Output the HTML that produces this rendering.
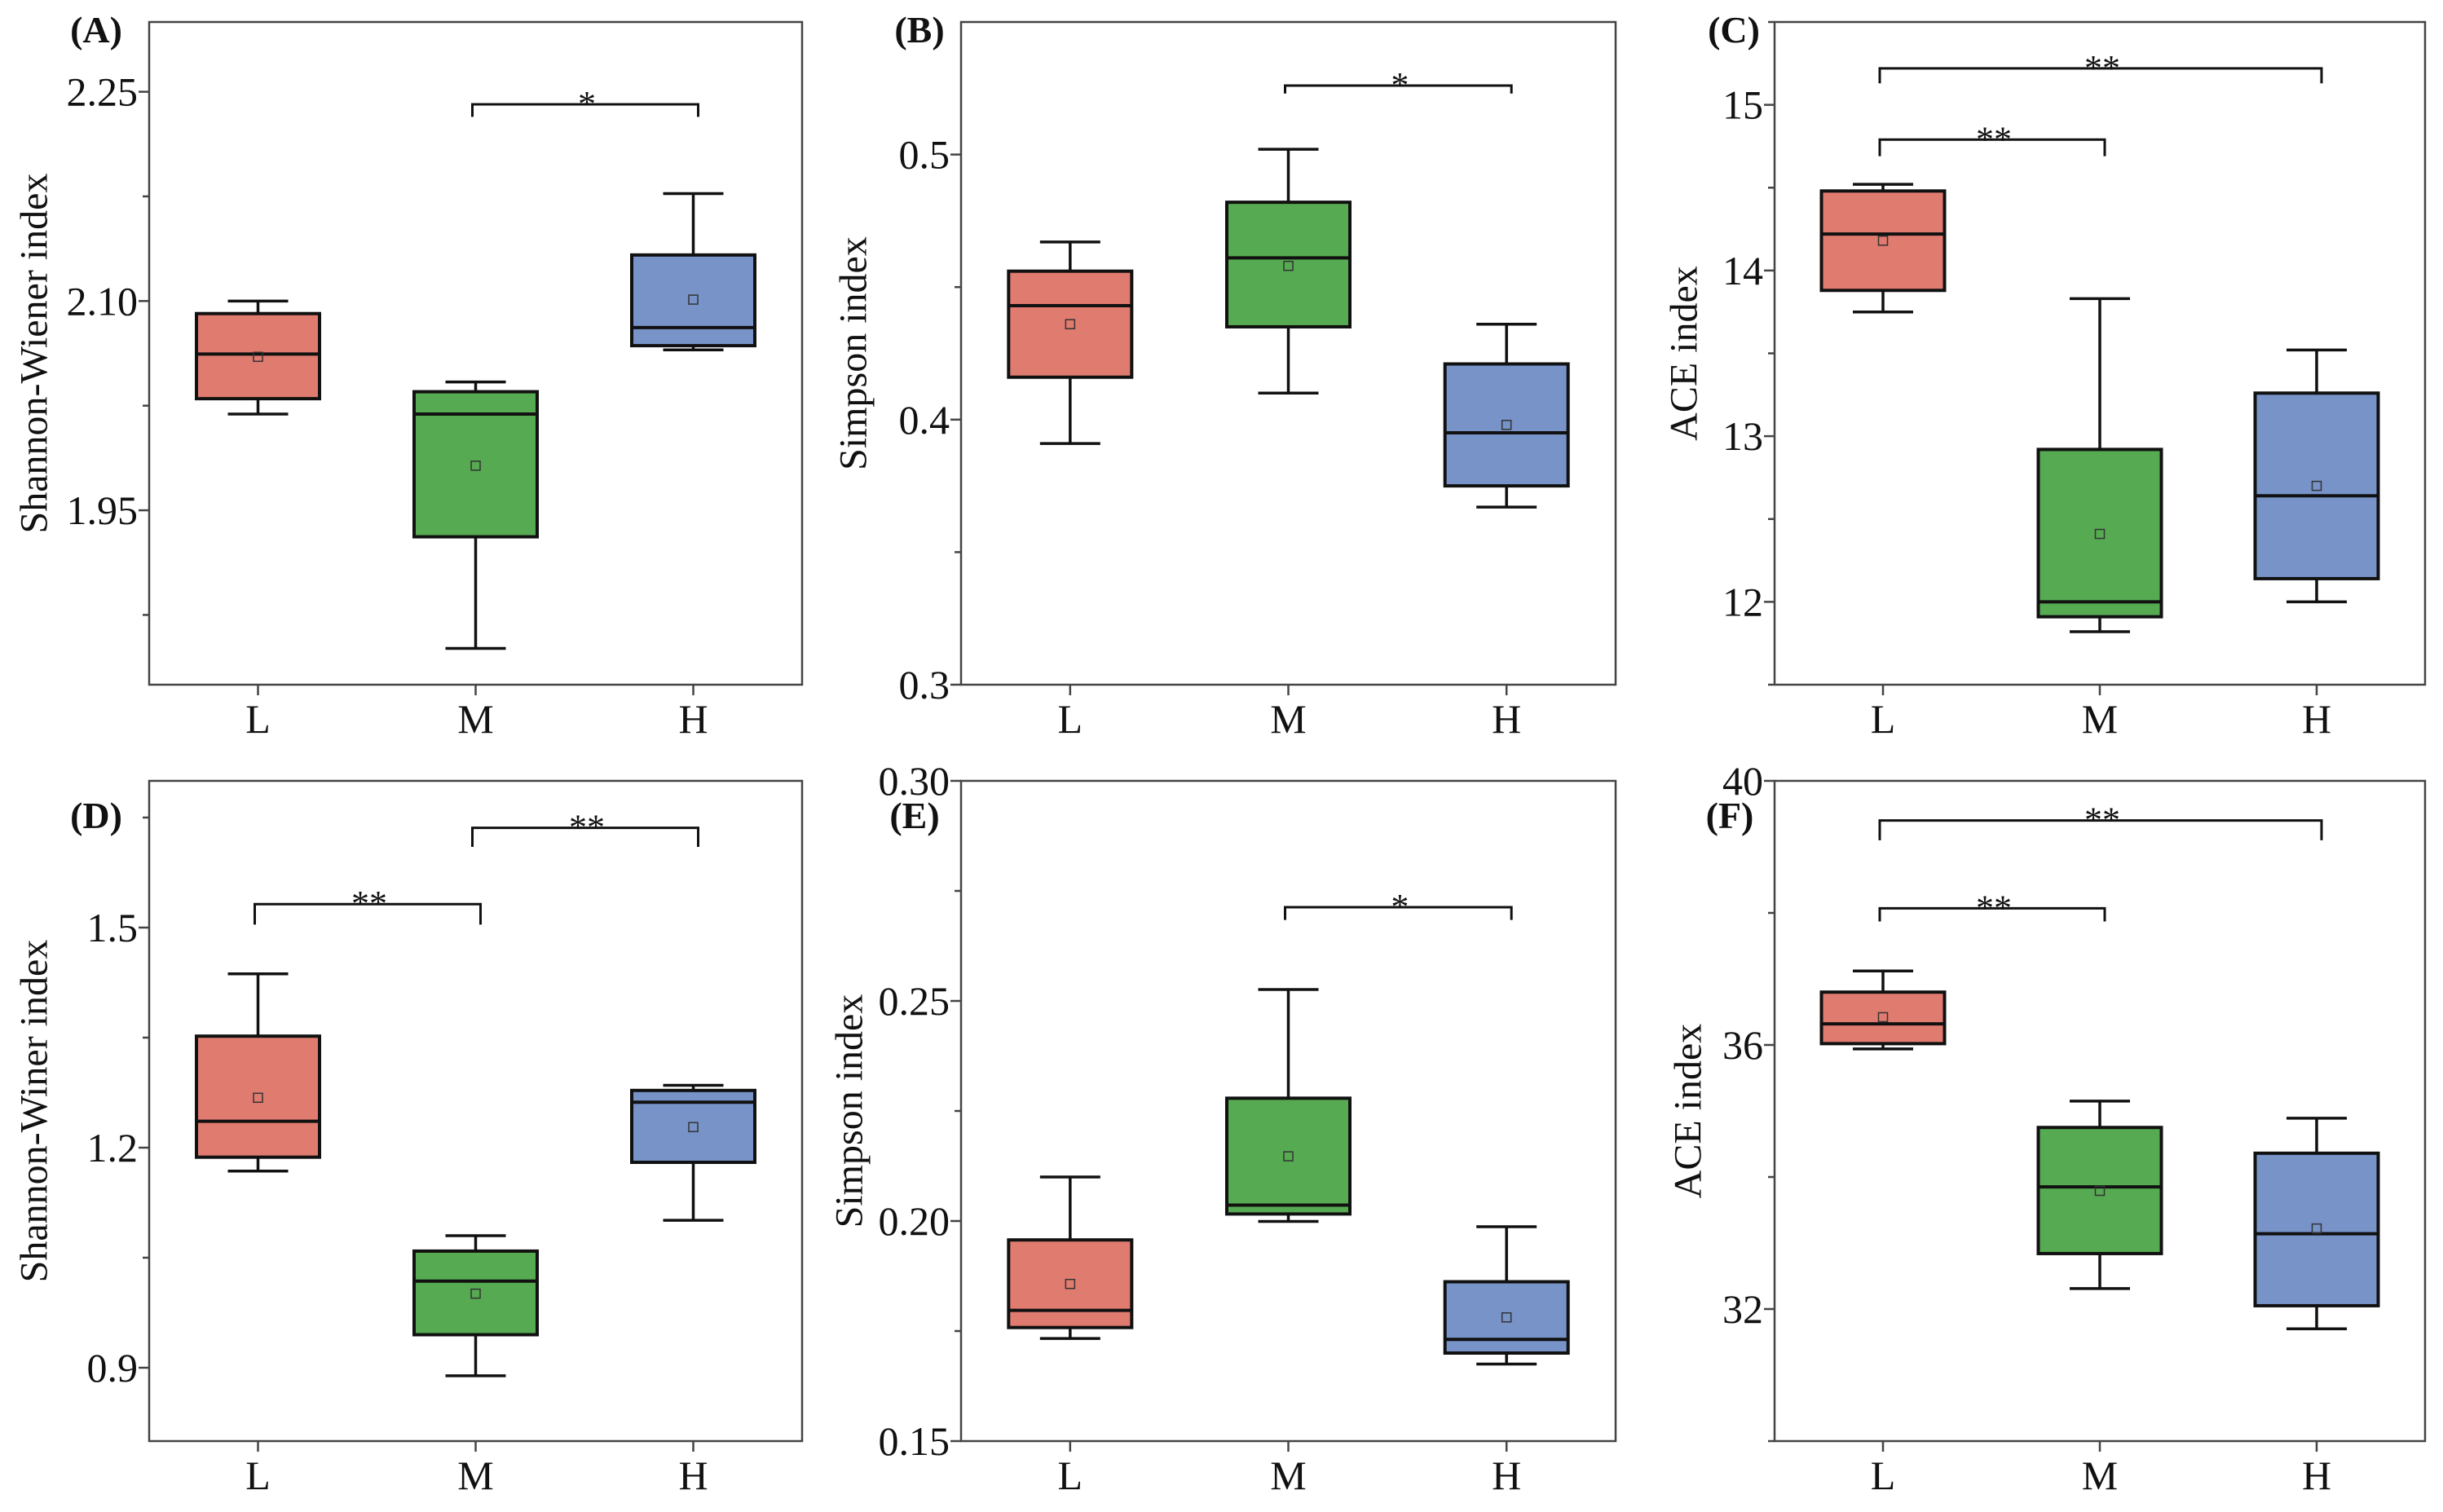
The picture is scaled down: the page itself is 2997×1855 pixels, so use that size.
<!DOCTYPE html>
<html><head><meta charset="utf-8">
<style>
html,body{margin:0;padding:0;background:#fff;}
svg{display:block;font-family:"Liberation Serif",serif;}
</style></head>
<body>
<svg id="fig" width="2997" height="1855" viewBox="0 0 2997 1855" xmlns="http://www.w3.org/2000/svg"></svg>
<script>
const categories = ["L","M","H"];
const colors = ["#e07b6f","#56aa52","#7793c8"];
// per group: [whiskerLow, q1, median, q3, whiskerHigh, mean]
const statsA = [[2.019,2.030,2.062,2.091,2.100,2.060],[1.851,1.931,2.019,2.035,2.042,1.982],[2.065,2.068,2.081,2.133,2.177,2.101]];
const statsB = [[0.391,0.416,0.443,0.456,0.467,0.436],[0.410,0.435,0.461,0.482,0.502,0.458],[0.367,0.375,0.395,0.421,0.436,0.398]];
const statsC = [[13.75,13.88,14.22,14.48,14.52,14.18],[11.82,11.91,12.00,12.92,13.83,12.41],[12.00,12.14,12.64,13.26,13.52,12.70]];
const statsD = [[1.168,1.187,1.236,1.352,1.437,1.268],[0.889,0.945,1.018,1.059,1.080,1.001],[1.101,1.180,1.262,1.278,1.285,1.228]];
const statsE = [[0.1733,0.1758,0.1797,0.1957,0.2100,0.1857],[0.1999,0.2016,0.2036,0.2279,0.2526,0.2147],[0.1675,0.1700,0.1731,0.1862,0.1987,0.1781]];
const statsF = [[35.94,36.02,36.32,36.80,37.12,36.42],[32.31,32.84,33.85,34.75,35.15,33.79],[31.70,32.05,33.14,34.36,34.89,33.22]];
const majorA = ["1.95","2.10","2.25"], minorA = [1.875,2.025,2.175];
const majorB = ["0.3","0.4","0.5"], minorB = [0.35,0.45];
const majorC = ["12","13","14","15"], minorC = [11.5,12.5,13.5,14.5,15.5];
const majorD = ["0.9","1.2","1.5"], minorD = [1.05,1.35,1.65];
const majorE = ["0.15","0.20","0.25","0.30"], minorE = [0.175,0.225,0.275];
const majorF = ["32","36","40"], minorF = [30,34,38];
// brackets: [fromIdx, toIdx, yValue, dropValue, label]
const sigA = [[1,2,2.241,2.232,"*"]];
const sigB = [[1,2,0.526,0.523,"*"]];
const sigC = [[0,1,14.79,14.69,"**"],[0,2,15.22,15.13,"**"]];
const sigD = [[0,1,1.532,1.504,"**"],[1,2,1.636,1.610,"**"]];
const sigE = [[1,2,0.2713,0.2684,"*"]];
const sigF = [[0,1,38.07,37.87,"**"],[0,2,39.40,39.10,"**"]];

const panels = [
 {id:"a",tag:"(A)",x0:183,x1:984,y0:27,y1:840,min:1.825,max:2.30,stats:statsA,major:majorA,minor:minorA,sig:sigA,ylab:"Shannon-Wiener  index",ylx:42,tagx:118,tagy:52},
 {id:"b",tag:"(B)",x0:1179,x1:1982,y0:27,y1:840,min:0.3,max:0.55,stats:statsB,major:majorB,minor:minorB,sig:sigB,ylab:"Simpson  index",ylx:1047,tagx:1128,tagy:52},
 {id:"c",tag:"(C)",x0:2177,x1:2975,y0:27,y1:840,min:11.5,max:15.5,stats:statsC,major:majorC,minor:minorC,sig:sigC,ylab:"ACE  index",ylx:2066,tagx:2127,tagy:52},
 {id:"d",tag:"(D)",x0:183,x1:984,y0:958,y1:1768,min:0.8,max:1.7,stats:statsD,major:majorD,minor:minorD,sig:sigD,ylab:"Shannon-Winer  index",ylx:42,tagx:118,tagy:1016},
 {id:"e",tag:"(E)",x0:1179,x1:1982,y0:958,y1:1768,min:0.15,max:0.30,stats:statsE,major:majorE,minor:minorE,sig:sigE,ylab:"Simpson  index",ylx:1042,tagx:1122,tagy:1016},
 {id:"f",tag:"(F)",x0:2177,x1:2975,y0:958,y1:1768,min:30,max:40,stats:statsF,major:majorF,minor:minorF,sig:sigF,ylab:"ACE  index",ylx:2071,tagx:2122,tagy:1016}
];
const NS="http://www.w3.org/2000/svg";
const svg=document.getElementById("fig");
function mk(tag,attrs,parent,text){const e=document.createElementNS(NS,tag);for(const k in attrs)e.setAttribute(k,attrs[k]);if(text!==undefined)e.textContent=text;(parent||svg).appendChild(e);return e;}

panels.forEach(p=>{
 const g=mk("g",{});
 
 
 const W=p.x1-p.x0;
 const ys=v=>p.y1-(v-p.min)/(p.max-p.min)*(p.y1-p.y0);
 const xs=i=>p.x0+(i+0.5)/3*W;
 const frame=mk("rect",{x:p.x0,y:p.y0,width:W,height:p.y1-p.y0,fill:"none",stroke:"#444","stroke-width":2.5},g);
 
 
 p.major.forEach(t=>{
  const y=ys(parseFloat(t));
  mk("line",{x1:p.x0-13,x2:p.x0,y1:y,y2:y,stroke:"#444","stroke-width":2.5},g);
  const tl=mk("text",{x:p.x0-14,y:y+17,"text-anchor":"end","font-size":50,fill:"#111"},g,t);
  
  
 });
 p.minor.forEach(v=>{const y=ys(v);mk("line",{x1:p.x0-8,x2:p.x0,y1:y,y2:y,stroke:"#444","stroke-width":2.5},g);});
 categories.forEach((c,i)=>{
  const x=xs(i);
  mk("line",{x1:x,x2:x,y1:p.y1,y2:p.y1+13,stroke:"#444","stroke-width":2.5},g);
  const xl=mk("text",{x:x,y:p.y1+59,"text-anchor":"middle","font-size":50,fill:"#111"},g,c);
  
  
 });
 const yl=mk("text",{x:p.ylx,y:(p.y0+p.y1)/2,"text-anchor":"middle","font-size":48,fill:"#111",transform:`rotate(-90 ${p.ylx} ${(p.y0+p.y1)/2})`,"dominant-baseline":"central","xml:space":"preserve"},g,p.ylab);
 
 
 const tg=mk("text",{x:p.tagx,y:p.tagy,"text-anchor":"middle","font-size":46,"font-weight":"bold",fill:"#111"},g,p.tag);
 
 
 p.stats.forEach((s,i)=>{
  const x=xs(i), bw=151, cw=74;
  const bg=mk("g",{},g);
  
  
  mk("line",{x1:x,x2:x,y1:ys(s[0]),y2:ys(s[1]),stroke:"#111","stroke-width":3.5},bg);
  mk("line",{x1:x,x2:x,y1:ys(s[3]),y2:ys(s[4]),stroke:"#111","stroke-width":3.5},bg);
  mk("line",{x1:x-cw/2,x2:x+cw/2,y1:ys(s[0]),y2:ys(s[0]),stroke:"#111","stroke-width":3.5},bg);
  mk("line",{x1:x-cw/2,x2:x+cw/2,y1:ys(s[4]),y2:ys(s[4]),stroke:"#111","stroke-width":3.5},bg);
  mk("rect",{x:x-bw/2,y:ys(s[3]),width:bw,height:ys(s[1])-ys(s[3]),fill:colors[i],stroke:"#111","stroke-width":4},bg);
  mk("line",{x1:x-bw/2,x2:x+bw/2,y1:ys(s[2]),y2:ys(s[2]),stroke:"#111","stroke-width":4},bg);
  mk("rect",{x:x-5.5,y:ys(s[5])-5.5,width:11,height:11,fill:"none",stroke:"#333","stroke-width":1.5},bg);
 });
 p.sig.forEach(b=>{
  const xa=xs(b[0])-4, xb=xs(b[1])+6, y=ys(b[2]), yd=ys(b[3]);
  const sg=mk("g",{},g);
  
  
  mk("path",{d:`M${xa} ${yd} V${y} H${xb} V${yd}`,fill:"none",stroke:"#111","stroke-width":3},sg);
  mk("text",{x:(xa+xb)/2+2,y:y+14,"text-anchor":"middle","font-size":44,fill:"#111"},sg,b[4]);
 });
});
</script>
</body></html>
